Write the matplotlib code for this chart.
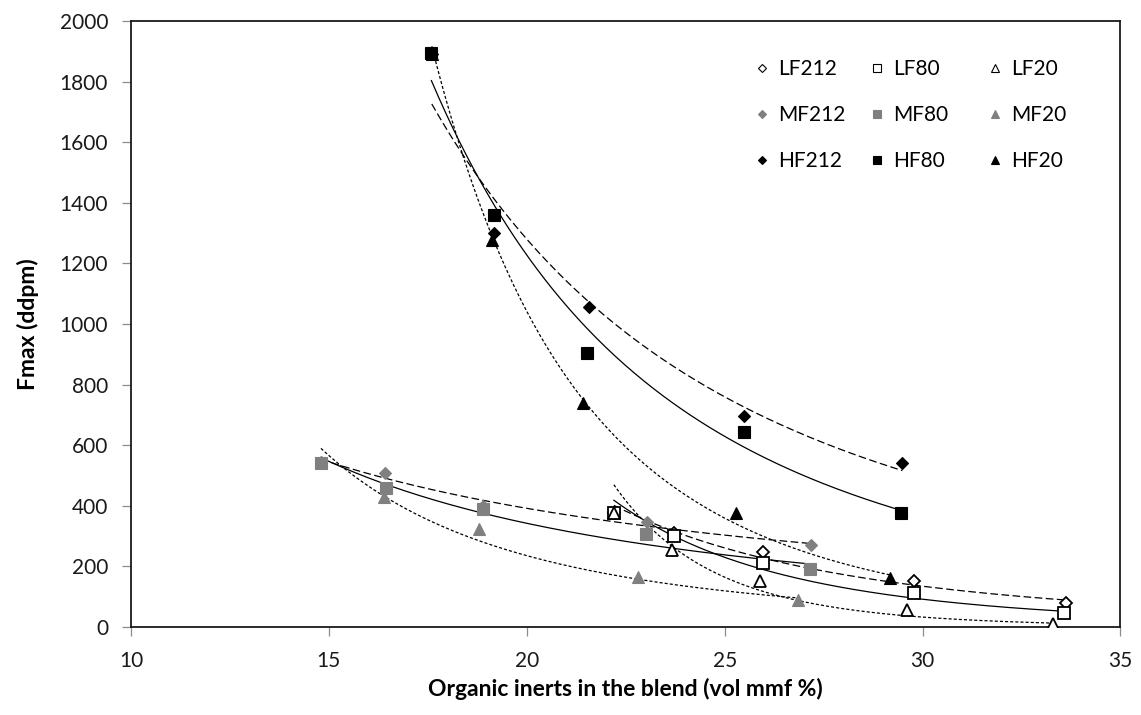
import matplotlib
matplotlib.use("Agg")
import matplotlib.pyplot as plt
from matplotlib.lines import Line2D
import numpy as np

plt.rcParams["font.family"] = ["Lato", "DejaVu Sans"]
plt.rcParams["lines.scale_dashes"] = False

# organic inerts (vol mmf %) and Fmax (ddpm)
lf212_x = [22.2, 23.72, 25.97, 29.78, 33.62]
lf212_y = [375, 311, 248, 152, 81]
lf80_x = [22.2, 23.72, 25.97, 29.78, 33.58]
lf80_y = [375, 301, 210, 111, 45]
lf20_x = [22.2, 23.67, 25.89, 29.6, 33.3]
lf20_y = [375, 254, 153, 56, 9]

mf212_x = [14.8, 16.43, 18.9, 23.05, 27.18]
mf212_y = [545, 509, 400, 348, 270]
mf80_x = [14.8, 16.45, 18.9, 23.0, 27.15]
mf80_y = [543, 458, 388, 306, 190]
mf20_x = [14.8, 16.4, 18.79, 22.8, 26.86]
mf20_y = [545, 428, 323, 164, 89]

hf212_x = [17.6, 19.18, 21.56, 25.5, 29.49]
hf212_y = [1890, 1301, 1055, 696, 543]
hf80_x = [17.59, 19.18, 21.53, 25.49, 29.45]
hf80_y = [1893, 1360, 903, 645, 377]
hf20_x = [17.6, 19.13, 21.43, 25.29, 29.17]
hf20_y = [1890, 1277, 740, 377, 161]

# one legend column per particle size
COLUMNS = [
    [("LF212", lf212_x, lf212_y), ("MF212", mf212_x, mf212_y), ("HF212", hf212_x, hf212_y)],
    [("LF80", lf80_x, lf80_y), ("MF80", mf80_x, mf80_y), ("HF80", hf80_x, hf80_y)],
    [("LF20", lf20_x, lf20_y), ("MF20", mf20_x, mf20_y), ("HF20", hf20_x, hf20_y)],
]

MARKERS = {"212": ("D", 6.3), "80": ("s", 9.0), "20": ("^", 9.0)}
DASHES = {"212": (5.5, 2.5), "80": None, "20": (2.2, 1.5)}
FACES = {"LF": "white", "MF": "#808080", "HF": "black"}
EDGES = {"LF": "black", "MF": "#808080", "HF": "black"}


def power_fit(x, y):
    # Excel style power trendline: least squares on log-log
    b, ln_a = np.polyfit(np.log(x), np.log(y), 1)
    xs = np.linspace(min(x), max(x), 200)
    return xs, np.exp(ln_a) * xs ** b


fig = plt.figure(figsize=(11.41, 7.15), dpi=100)
ax = fig.add_axes([0.1148, 0.123, 0.8672, 0.8476])

column_handles = []
for column in COLUMNS:
    handles = []
    for name, x, y in column:
        group, size = name[:2], name[2:]
        marker, ms = MARKERS[size]

        xs, ys = power_fit(x, y)
        line, = ax.plot(xs, ys, color="black", linewidth=0.9, zorder=2)
        if DASHES[size] is not None:
            line.set_dashes(DASHES[size])

        ax.plot(
            x, y,
            linestyle="none",
            marker=marker,
            markersize=ms,
            markerfacecolor=FACES[group],
            markeredgecolor=EDGES[group],
            markeredgewidth=1.3 if group == "LF" else 0.8,
            zorder=3 if group != "LF" else 4,
        )
        handles.append(
            Line2D([], [], linestyle="none", marker=marker, markersize=ms * 0.62,
                   markerfacecolor=FACES[group], markeredgecolor=EDGES[group],
                   markeredgewidth=0.8, label=name)
        )
    column_handles.append(handles)

ax.set_xlim(10, 35)
ax.set_ylim(0, 2000)
ax.set_xticks(np.arange(10, 36, 5))
ax.set_yticks(np.arange(0, 2001, 200))

for spine in ax.spines.values():
    spine.set_color("#1a1a1a")
    spine.set_linewidth(1.3)

ax.tick_params(axis="both", direction="out", length=6.5, width=0.9,
               color="#8c8c8c", labelsize=15, labelcolor="#1a1a1a")
ax.tick_params(axis="x", pad=11)
ax.tick_params(axis="y", pad=10)

ax.set_xlabel("Organic inerts in the blend (vol mmf %)", fontsize=16.5,
              fontweight="bold", labelpad=5)
ax.set_ylabel("Fmax (ddpm)", fontsize=16.5, fontweight="bold", labelpad=15)

legend_left = [0.6587, 0.7595, 0.8629]
for left, handles in zip(legend_left, column_handles):
    fig.legend(handles=handles, loc="upper left",
               bbox_to_anchor=(left, 0.9168), bbox_transform=fig.transFigure,
               frameon=False, fontsize=15, borderpad=0, borderaxespad=0,
               handletextpad=0.27, labelspacing=1.24, handlelength=1.0)

fig.savefig("out.png", dpi=100)
